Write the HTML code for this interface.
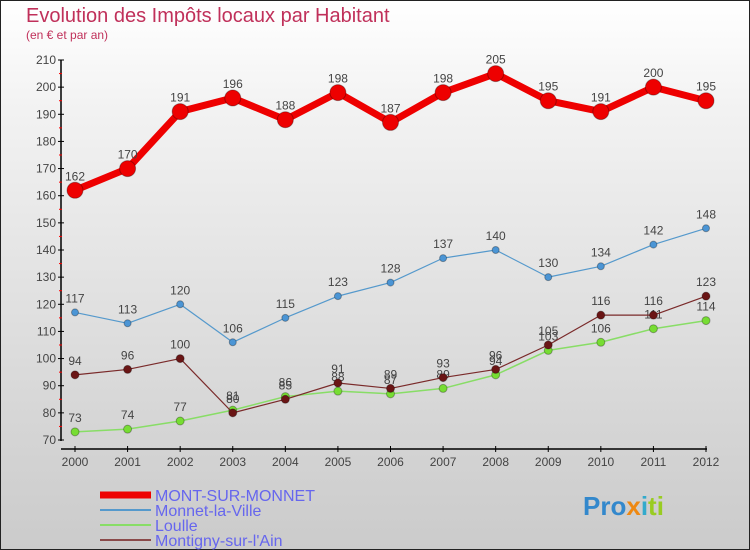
<!DOCTYPE html>
<html><head><meta charset="utf-8"><style>
body{margin:0;width:750px;height:550px;overflow:hidden;font-family:"Liberation Sans","DejaVu Sans",sans-serif}
#c{position:absolute;left:0;top:0;width:748px;height:548px;border:1px solid #222;background:linear-gradient(#ffffff,#f2f2f2 20%,#d4d4d4 80%,#cbcbcb)}
</style></head><body>
<div id="c">
<svg width="750" height="550" id="svg" style="position:absolute;left:-1px;top:-1px"></svg>
</div>
<script>
const years=[2000,2001,2002,2003,2004,2005,2006,2007,2008,2009,2010,2011,2012];
const yTicks=[70,80,90,100,110,120,130,140,150,160,170,180,190,200,210];
const mont=[162,170,191,196,188,198,187,198,205,195,191,200,195];
const monnet=[117,113,120,106,115,123,128,137,140,130,134,142,148];
const loulle=[73,74,77,81,86,88,87,89,94,103,106,111,114];
const montigny=[94,96,100,80,85,91,89,93,96,105,116,116,123];
const NS="http://www.w3.org/2000/svg",svg=document.getElementById('svg');
const X=i=>75+i*(706-75)/12, Y=v=>440-(v-70)*(380/140);
function el(t,a,p){const e=document.createElementNS(NS,t);for(const k in a)e.setAttribute(k,a[k]);(p||svg).appendChild(e);return e;}
const F='"Liberation Sans","DejaVu Sans",sans-serif';
let t=el('text',{x:26,y:22,fill:'#c0305a','font-size':20,'font-family':F});t.textContent='Evolution des Impôts locaux par Habitant';

t=el('text',{x:26,y:39,fill:'#c0305a','font-size':12,'font-family':F});t.textContent='(en € et par an)';

let a=el('line',{x1:61,y1:60,x2:61,y2:441,stroke:'#000','stroke-width':1.5});

a=el('line',{x1:61,y1:449,x2:707,y2:449,stroke:'#000','stroke-width':1.5});

yTicks.forEach((v,i)=>{el('line',{x1:58,x2:64,y1:Y(v),y2:Y(v),stroke:'#000'});
 if(i<yTicks.length-1)el('line',{x1:59,x2:62,y1:Y(v+5),y2:Y(v+5),stroke:'#f00'});
 const tx=el('text',{x:56,y:Y(v)+4,'text-anchor':'end','font-size':12,fill:'#444','font-family':F});tx.textContent=v;
 });
years.forEach((yr,i)=>{el('line',{x1:X(i),x2:X(i),y1:446,y2:452,stroke:'#000'});
 const tx=el('text',{x:X(i),y:466,'text-anchor':'middle','font-size':12,fill:'#444','font-family':F});tx.textContent=yr;
 });
function series(d,col,dot,w,r,name){
 const g=el('g',{});
 el('polyline',{points:d.map((v,i)=>X(i)+','+Y(v)).join(' '),fill:'none',stroke:col,'stroke-width':w,'stroke-linejoin':'round'},g);
 d.forEach((v,i)=>{const c=el('circle',{cx:X(i),cy:Y(v),r:r,fill:dot,stroke:'rgba(0,0,0,0.3)'},g);
  
  const tx=el('text',{x:X(i),y:Y(v)-10,'text-anchor':'middle','font-size':12,fill:'#444','font-family':F},g);tx.textContent=v;
  });
}
series(loulle,'#88dd66','#77dd33',1.5,4,'loulle-series');
series(montigny,'#7a2a2a','#6a1515',1.2,4,'montigny-series');
series(monnet,'#5599cc','#4b95d5',1.2,3.5,'monnet-series');
series(mont,'#ee0000','#ee0000',7,8,'mont-series');
const leg=[['MONT-SUR-MONNET','#ee0000',7],['Monnet-la-Ville','#5599cc',2],['Loulle','#88dd66',2],['Montigny-sur-l\'Ain','#8a4a4a',2]];
leg.forEach((l,i)=>{const y=492+i*15;const g=el('g',{});
 el('line',{x1:100,x2:151,y1:y+3,y2:y+3,stroke:l[1],'stroke-width':l[2]},g);
 const tx=el('text',{x:155,y:y+9,'font-size':16,fill:'#6666ee','font-family':F},g);tx.textContent=l[0];});
const px=el('text',{x:583,y:515,'font-size':26,'font-weight':'bold','font-family':F,fill:'#3388cc'});
px.innerHTML='<tspan fill="#3388cc">Pro</tspan><tspan fill="#ee8811">x</tspan><tspan fill="#33aacc">i</tspan><tspan fill="#99cc22">ti</tspan>';

</script>
</body></html>
